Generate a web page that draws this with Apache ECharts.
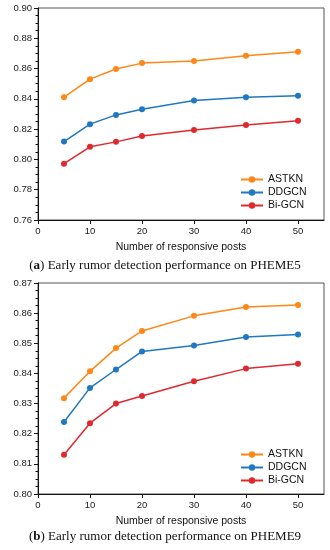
<!DOCTYPE html>
<html><head><meta charset="utf-8">
<script src="https://cdn.jsdelivr.net/npm/echarts@6/dist/echarts.min.js"></script>
<style>html,body{margin:0;padding:0;background:#fff}#c{width:330px;height:550px}</style>
</head><body><div id="c"></div>
<script>
var xs = [5, 10, 15, 20, 30, 40, 50];
var xTicks = [0, 10, 20, 30, 40, 50];
var names = ['ASTKN', 'DDGCN', 'Bi-GCN'];
var a_astkn = [0.8411, 0.8530, 0.8597, 0.8636, 0.8650, 0.8685, 0.8711];
var a_ddgcn = [0.8118, 0.8233, 0.8294, 0.8332, 0.8389, 0.8411, 0.8420];
var a_bigcn = [0.7972, 0.8083, 0.8116, 0.8155, 0.8195, 0.8228, 0.8255];
var b_astkn = [0.8318, 0.8407, 0.8484, 0.8541, 0.8591, 0.8620, 0.8627];
var b_ddgcn = [0.8239, 0.8352, 0.8413, 0.8473, 0.8493, 0.8521, 0.8529];
var b_bigcn = [0.8130, 0.8235, 0.8300, 0.8325, 0.8374, 0.8416, 0.8432];
var colors = ['#ff8717', '#1f78c1', '#de2a2e'];

function pairs(v) { return xs.map(function (x, i) { return [x, v[i]]; }); }
var font = 'Liberation Sans, Arial, sans-serif';
function xAxis(idx) {
  return {
    type: 'value', gridIndex: idx, min: 0, max: 55, interval: 10,
    name: 'Number of responsive posts', nameLocation: 'middle', nameGap: 22,
    nameTextStyle: { fontFamily: font, fontSize: 10.5, color: '#111' },
    axisLine: { show: true, lineStyle: { color: '#111', width: 1 } },
    axisTick: { show: true, length: 4, lineStyle: { color: '#111' }, customValues: xTicks },
    axisLabel: { fontFamily: font, fontSize: 9.5, color: '#222', margin: 6, customValues: xTicks },
    splitLine: { show: false }
  };
}
function yAxis(idx, min, max, interval) {
  return {
    type: 'value', gridIndex: idx, min: min, max: max, interval: interval,
    name: 'Acc', nameLocation: 'middle', nameGap: 30,
    nameTextStyle: { fontFamily: font, fontSize: 10.5, color: '#111' },
    axisLine: { show: true, lineStyle: { color: '#111', width: 1 } },
    axisTick: { show: true, inside: false, length: 4, lineStyle: { color: '#111' } },
    minorTick: { show: true, splitNumber: 4, length: 2.5, lineStyle: { color: '#111' } },
    axisLabel: { fontFamily: font, fontSize: 9.5, color: '#222', margin: 6,
      formatter: function (v) { return v.toFixed(2); } },
    splitLine: { show: false }
  };
}
function series(name, data, idx, ci) {
  return {
    type: 'line', name: name, xAxisIndex: idx, yAxisIndex: idx, data: pairs(data),
    symbol: 'circle', symbolSize: 6, color: colors[ci],
    lineStyle: { width: 1.5, color: colors[ci] }, itemStyle: { color: colors[ci] }
  };
}
function legend(top) {
  return {
    data: names, orient: 'vertical', left: 240, top: top, itemGap: 0, padding: 0,
    itemWidth: 22, itemHeight: 8,
    textStyle: { fontFamily: font, fontSize: 10.5, color: '#111', lineHeight: 13, padding: [0, 0, 0, 0] }
  };
}
var chart = echarts.init(document.getElementById('c'));
chart.setOption({
  animation: false,
  grid: [
    { left: 38, top: 8, width: 286, height: 212, show: true, borderColor: '#555', borderWidth: 1, backgroundColor: 'transparent', outerBoundsMode: 'none', containLabel: false },
    { left: 38, top: 283, width: 286, height: 211, show: true, borderColor: '#555', borderWidth: 1, backgroundColor: 'transparent', outerBoundsMode: 'none', containLabel: false }
  ],
  legend: [legend(173), legend(448)],
  xAxis: [xAxis(0), xAxis(1)],
  yAxis: [yAxis(0, 0.76, 0.90, 0.02), yAxis(1, 0.80, 0.87, 0.01)],
  series: [
    series(names[0], a_astkn, 0, 0), series(names[1], a_ddgcn, 0, 1), series(names[2], a_bigcn, 0, 2),
    series(names[0], b_astkn, 1, 0), series(names[1], b_ddgcn, 1, 1), series(names[2], b_bigcn, 1, 2)
  ],
  graphic: [
    { type: 'text', left: 'center', top: 259, style: {
      text: '({b|a}) Early rumor detection performance on PHEME5',
      font: '13px "Liberation Serif", serif', fill: '#111',
      rich: { b: { fontFamily: 'Liberation Serif', fontWeight: 'bold', fontSize: 13, fill: '#111' } } } },
    { type: 'text', left: 'center', top: 530, style: {
      text: '({b|b}) Early rumor detection performance on PHEME9',
      font: '13px "Liberation Serif", serif', fill: '#111',
      rich: { b: { fontFamily: 'Liberation Serif', fontWeight: 'bold', fontSize: 13, fill: '#111' } } } }
  ]
});
</script></body></html>
